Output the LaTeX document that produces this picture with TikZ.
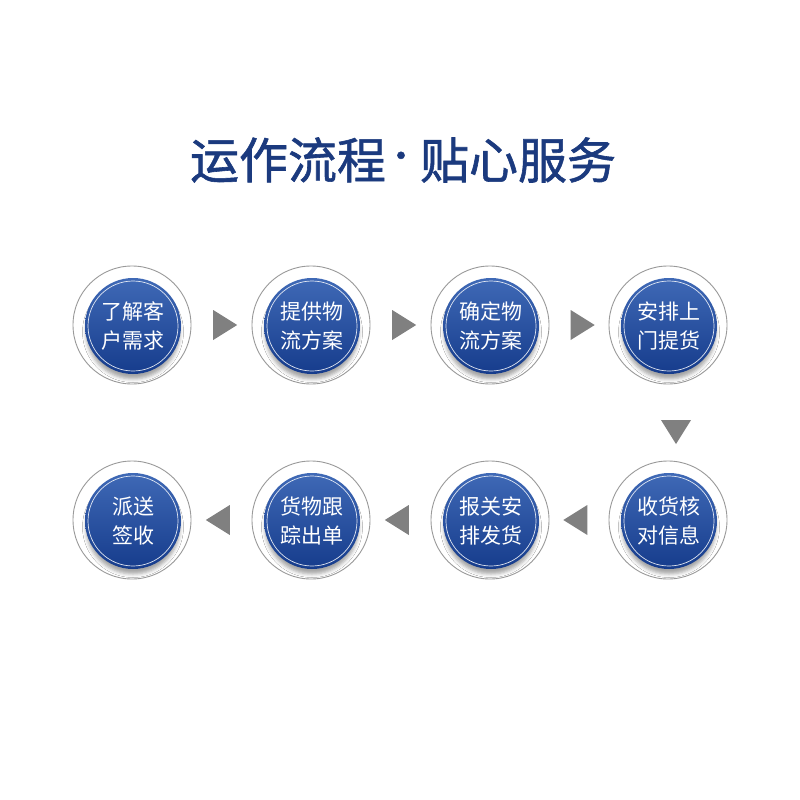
\documentclass[tikz,border=0pt]{standalone}
\usepackage{fontspec}
\setmainfont{Noto Sans CJK SC}
\newfontfamily\titlefont[FakeBold=1.2]{Noto Sans CJK SC}
\usetikzlibrary{shadows.blur,calc,shapes.geometric}
\definecolor{titleblue}{HTML}{1B3A7E}
\definecolor{bluetop}{HTML}{3F69B6}
\definecolor{bluebot}{HTML}{163C8C}
\definecolor{ringgray}{HTML}{9A9A9A}
\definecolor{arrowgray}{HTML}{808080}
\tikzset{
  outer/.style={circle,draw=ringgray,line width=0.9pt,fill=white,minimum size=118pt,inner sep=0pt},
  steptext/.style={text=white,align=center,font=\fontsize{21}{29}\selectfont},
  titletext/.style={text=titleblue,inner sep=0pt,font=\fontsize{49}{54}\selectfont\titlefont},
  tri/.style={isosceles triangle,isosceles triangle apex angle=64,fill=arrowgray,inner sep=0pt,minimum height=24pt,minimum width=27pt},
}
\newcommand\stepcirc[3]{%
  \node[outer] (#1) at (#2) {};
  \path[fill=bluebot,blur shadow={shadow xshift=0pt,shadow yshift=-6pt,shadow blur radius=3.5pt,shadow opacity=35}] ($(#1)+(1,1)$) circle[radius=47pt];
  \shade[top color=bluetop,bottom color=bluebot] ($(#1)+(1,1)$) circle[radius=48pt];
  \draw[white,line width=0.7pt,opacity=0.85] ($(#1)+(1,1)$) circle[radius=45pt];
  \node[steptext] (#1t) at ($(#1)+(1,1)$) {#3};
}
\begin{document}
\begin{tikzpicture}[x=1pt,y=-1pt]
\useasboundingbox (0,0) rectangle (800,800);
\fill[white] (0,0) rectangle (800,800);
\node[titletext] (titleL) at (288,160) {运作流程};
\node[titletext,font=\fontsize{34}{40}\selectfont\titlefont] (titleDot) at (401,160) {·};
\node[titletext] (titleR) at (518,160) {贴心服务};
\stepcirc{s1}{132,325}{了解客\\户需求}
\stepcirc{s2}{311,325}{提供物\\流方案}
\stepcirc{s3}{490,325}{确定物\\流方案}
\stepcirc{s4}{668,325}{安排上\\门提货}
\stepcirc{s5}{668,520}{收货核\\对信息}
\stepcirc{s6}{490,520}{报关安\\排发货}
\stepcirc{s7}{311,520}{货物跟\\踪出单}
\stepcirc{s8}{132,520}{派送\\签收}
\node[tri,shape border rotate=0] (a1) at ($(s1)!0.5!(s2)$) {};
\node[tri,shape border rotate=0] (a2) at ($(s2)!0.5!(s3)$) {};
\node[tri,shape border rotate=0] (a3) at ($(s3)!0.5!(s4)$) {};
\node[tri,shape border rotate=-90] (a4) at ($(s4)!0.53!(s5)+(8,0)$) {};
\node[tri,shape border rotate=180] (a5) at ($(s5)!0.5!(s6)$) {};
\node[tri,shape border rotate=180] (a6) at ($(s6)!0.5!(s7)$) {};
\node[tri,shape border rotate=180] (a7) at ($(s7)!0.5!(s8)$) {};
\end{tikzpicture}
\end{document}
